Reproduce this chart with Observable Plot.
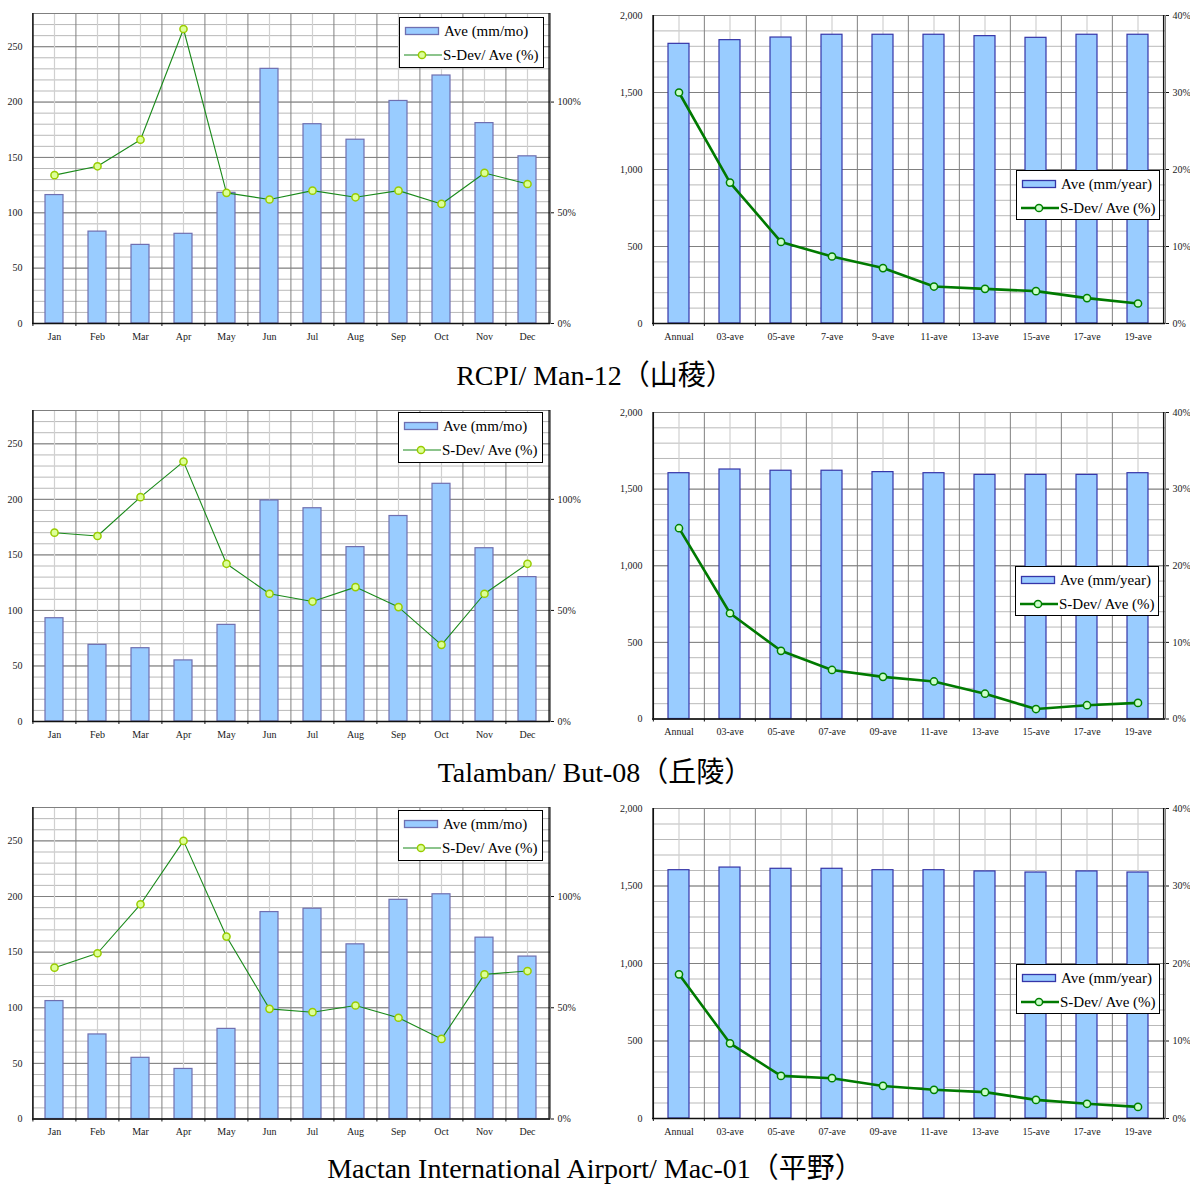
<!DOCTYPE html>
<html><head><meta charset="utf-8">
<script src="https://cdn.jsdelivr.net/npm/d3@7"></script>
<script src="https://cdn.jsdelivr.net/npm/@observablehq/plot@0.6"></script>
<style>
body{margin:0;background:#fff;}
#root{position:relative;width:1190px;height:1184px;overflow:hidden;font-family:"Liberation Serif","Times New Roman",serif;}
.title{position:absolute;left:0;width:1190px;text-align:center;font-size:28px;line-height:26px;color:#000;font-family:"Liberation Serif","Noto Sans CJK JP",serif;}
.legend{position:absolute;background:#fff;border:1px solid #000;box-sizing:border-box;font-size:15px;color:#000;}
.legend .row{position:absolute;left:0;height:20px;white-space:nowrap;}
.legend svg{position:absolute;top:0;}
.legend span{position:absolute;top:1px;line-height:18px;}
</style>
</head><body><div id="root"></div>
<script>
const months = ["Jan","Feb","Mar","Apr","May","Jun","Jul","Aug","Sep","Oct","Nov","Dec"];
const periodsA = ["Annual","03-ave","05-ave","7-ave","9-ave","11-ave","13-ave","15-ave","17-ave","19-ave"];
const periodsB = ["Annual","03-ave","05-ave","07-ave","09-ave","11-ave","13-ave","15-ave","17-ave","19-ave"];

// RCPI / Man-12
const rcpiMonthAve = [116, 83, 71, 81, 118, 230, 180, 166, 201, 224, 181, 151];
const rcpiMonthCv  = [67, 71, 83, 133, 59, 56, 60, 57, 60, 54, 68, 63];
const rcpiYearAve  = [1816, 1840, 1857, 1875, 1875, 1875, 1866, 1855, 1875, 1875];
const rcpiYearCv   = [30.0, 18.3, 10.6, 8.7, 7.2, 4.8, 4.5, 4.2, 3.3, 2.6];

// Talamban / But-08
const talMonthAve = [93, 69, 66, 55, 87, 199, 192, 157, 185, 214, 156, 130];
const talMonthCv  = [85, 83.5, 101, 117, 71, 57.5, 54, 60.5, 51.5, 34.5, 57.5, 71];
const talYearAve  = [1604, 1628, 1620, 1620, 1611, 1604, 1593, 1593, 1593, 1604];
const talYearCv   = [24.9, 13.8, 8.9, 6.4, 5.5, 4.9, 3.3, 1.3, 1.8, 2.1];

// Mactan International Airport / Mac-01
const macMonthAve = [106, 76, 55, 45, 81, 186, 189, 157, 197, 202, 163, 146];
const macMonthCv  = [68, 74.5, 96.5, 125, 82, 49.5, 48, 51, 45.5, 36, 65, 66.5];
const macYearAve  = [1602, 1619, 1611, 1611, 1602, 1602, 1594, 1587, 1594, 1587];
const macYearCv   = [18.6, 9.7, 5.5, 5.2, 4.2, 3.7, 3.4, 2.4, 1.9, 1.5];

const titles = ["RCPI/ Man-12（山稜）", "Talamban/ But-08（丘陵）", "Mactan International Airport/ Mac-01（平野）"];
const monthLegend = ["Ave (mm/mo)", "S-Dev/ Ave (%)"];
const yearLegend = ["Ave (mm/year)", "S-Dev/ Ave (%)"];

const root = document.getElementById("root");

const monthly = {
  kind: "month", left: 0, ml: 32, mr: 45, yMax: 280, major: 50, minor: 10, ratio: 2,
  rTicks: [0, 50, 100], lfmt: d3.format("d"),
  barStroke: "#6f6fb0", lineStroke: "#1a8a1a", lw: 1.1, dotFill: "#ddff99", dotStroke: "#99cc00"
};
const yearly = {
  kind: "year", left: 595, ml: 57, mr: 25, yMax: 2000, major: 500, minor: 100, ratio: 50,
  rTicks: [0, 10, 20, 30, 40], lfmt: d3.format(","),
  barStroke: "#3535a8", lineStroke: "#007a00", lw: 2.6, dotFill: "#ccffcc", dotStroke: "#008000"
};

function drawPanel(o, cats, ave, cv, plotTop, plotBottom) {
  const W = 595, mt = 10, mb = 27;
  const n = cats.length;
  const step = (W - o.ml - o.mr) / n;
  const rows = cats.map((c, i) => ({cat: c, ave: ave[i], cv: cv[i]}));
  const k = o.ratio;
  const svg = Plot.plot({
    width: W, height: plotBottom - plotTop + mt + mb,
    marginLeft: o.ml, marginRight: o.mr, marginTop: mt, marginBottom: mb,
    style: {fontFamily: '"Liberation Serif", "Times New Roman", serif', fontSize: "10px", background: "transparent", color: "#1a1a1a", overflow: "visible"},
    x: {type: "band", domain: cats, paddingInner: 0.58, paddingOuter: 0.29, label: null},
    y: {domain: [0, o.yMax], label: null},
    marks: [
      Plot.ruleY(d3.range(0, o.yMax + 1e-6, o.minor), {stroke: "#b9b9b9", strokeWidth: 1}),
      Plot.ruleY(d3.range(0, o.yMax + 1e-6, o.major), {stroke: "#808080", strokeWidth: 1}),
      Plot.ruleX(cats, {stroke: "#d0d0d0", strokeWidth: 1.2}),
      Plot.ruleX(cats, {dx: -step / 2, stroke: "#808080", strokeWidth: 1}),
      Plot.frame({stroke: "#808080"}),
      Plot.barY(rows, {x: "cat", y: "ave", fill: "#99ccff", stroke: o.barStroke, strokeWidth: 1.2}),
      Plot.line(rows, {x: "cat", y: d => d.cv * k, stroke: o.lineStroke, strokeWidth: o.lw}),
      Plot.dot(rows, {x: "cat", y: d => d.cv * k, r: 3.6, fill: o.dotFill, stroke: o.dotStroke, strokeWidth: 1.5}),
      Plot.ruleY([0], {stroke: "#111", strokeWidth: 1.6}),
      Plot.ruleX([cats[0]], {dx: -step / 2, stroke: "#111", strokeWidth: 1.4}),
      Plot.ruleX([cats[n - 1]], {dx: step / 2, stroke: "#111", strokeWidth: 1.4}),
      Plot.axisX({tickSize: 3, fill: "none", dx: -step / 2, stroke: "#111"}),
      Plot.axisX({tickSize: 0, tickPadding: 9}),
      Plot.axisY({anchor: "left", ticks: d3.range(0, o.yMax + 1e-6, o.major), tickSize: 0, tickPadding: 10, tickFormat: o.lfmt}),
      Plot.axisY({anchor: "right", ticks: o.rTicks.map(p => p * k), tickSize: 3, stroke: "#111", tickPadding: 4, tickFormat: v => Math.round(v / k) + "%"})
    ]
  });
  svg.style.position = "absolute";
  svg.style.left = o.left + "px";
  svg.style.top = (plotTop - mt) + "px";
  root.appendChild(svg);
}

function drawLegend(o, labels, left, top, w, h) {
  const div = document.createElement("div");
  div.className = "legend";
  Object.assign(div.style, {left: left + "px", top: top + "px", width: w + "px", height: h + "px"});
  const r1 = document.createElement("div");
  r1.className = "row"; r1.style.top = "3px"; r1.style.width = w + "px";
  r1.innerHTML = `<svg width="44" height="20" style="left:3px"><rect x="2.5" y="6.5" width="33" height="7" fill="#99ccff" stroke="${o.barStroke}" stroke-width="1.3"/></svg><span style="left:44px">${labels[0]}</span>`;
  const r2 = document.createElement("div");
  r2.className = "row"; r2.style.top = "27px"; r2.style.width = w + "px";
  r2.innerHTML = `<svg width="44" height="20" style="left:3px"><line x1="1" x2="39" y1="10" y2="10" stroke="${o.lineStroke}" stroke-width="${o.lw}"/><circle cx="19" cy="10" r="3.6" fill="${o.dotFill}" stroke="${o.dotStroke}" stroke-width="1.5"/></svg><span style="left:43px">${labels[1]}</span>`;
  div.appendChild(r1); div.appendChild(r2);
  root.appendChild(div);
}

function drawTitle(text, centerY) {
  const d = document.createElement("div");
  d.className = "title";
  d.style.top = (centerY - 13) + "px";
  d.textContent = text;
  root.appendChild(d);
}

// Row 1
drawPanel(monthly, months, rcpiMonthAve, rcpiMonthCv, 13, 323);
drawPanel(yearly, periodsA, rcpiYearAve, rcpiYearCv, 15, 323);
drawLegend(monthly, monthLegend, 399, 17, 145, 51);
drawLegend(yearly, yearLegend, 1016, 170, 144, 50);
drawTitle(titles[0], 376);

// Row 2
drawPanel(monthly, months, talMonthAve, talMonthCv, 410, 721);
drawPanel(yearly, periodsB, talYearAve, talYearCv, 412, 718.5);
drawLegend(monthly, monthLegend, 398, 412, 145, 51);
drawLegend(yearly, yearLegend, 1015, 566, 144, 50);
drawTitle(titles[1], 773);

// Row 3
drawPanel(monthly, months, macMonthAve, macMonthCv, 806.5, 1118);
drawPanel(yearly, periodsB, macYearAve, macYearCv, 807.5, 1117.5);
drawLegend(monthly, monthLegend, 398, 810, 145, 51);
drawLegend(yearly, yearLegend, 1016, 964, 144, 50);
drawTitle(titles[2], 1169);
</script>
</body></html>
